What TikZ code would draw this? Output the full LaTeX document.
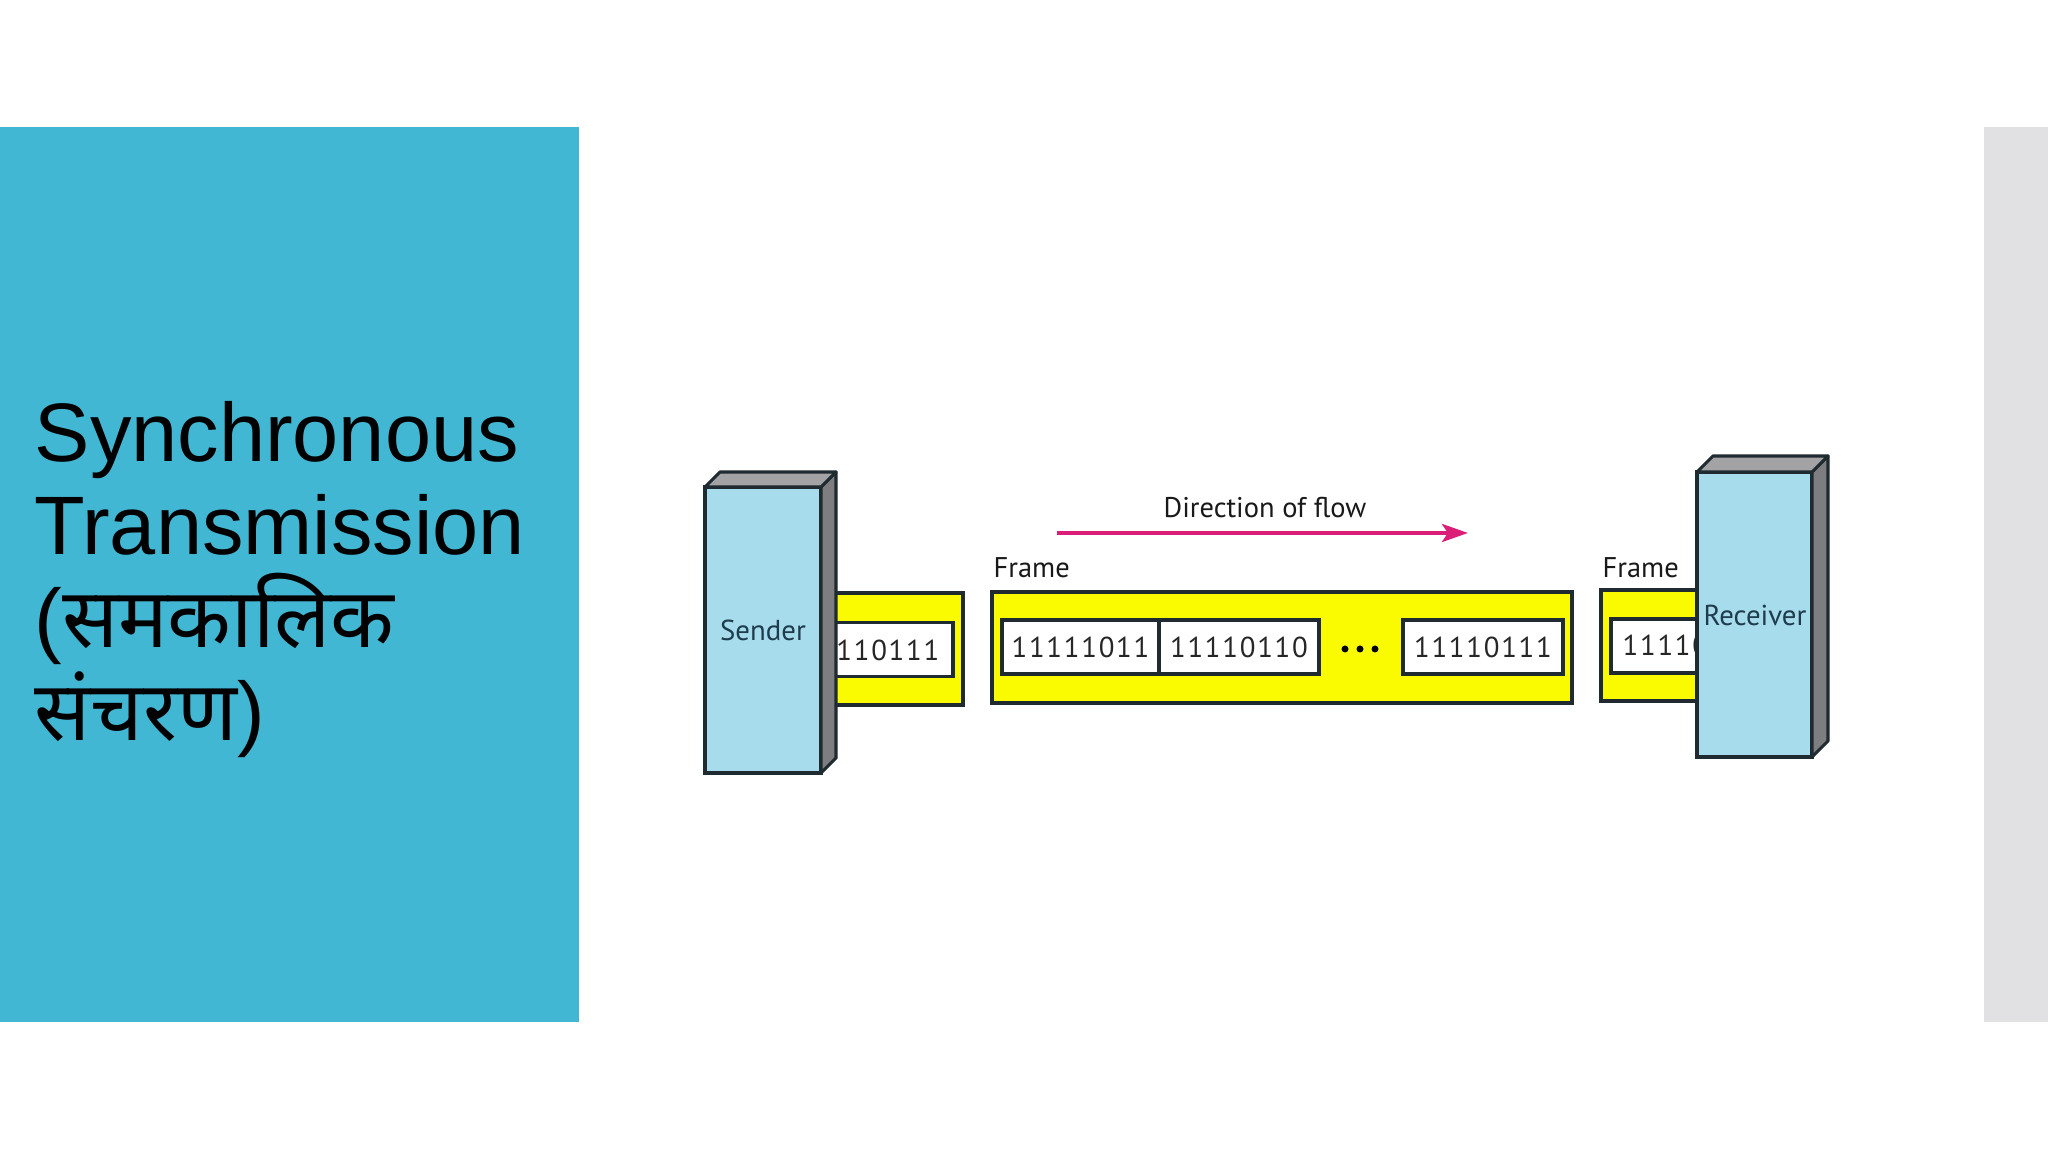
\documentclass[tikz,border=0pt]{standalone}
\usepackage{fontspec}
\setmainfont{Liberation Sans}
\newfontfamily\hindifont[Script=Devanagari]{Noto Sans}
\newfontfamily\figfont{PT Sans}
\newfontfamily\bitfont[LetterSpace=6]{PT Sans}
\usetikzlibrary{positioning,arrows.meta}
\definecolor{SlideTeal}{HTML}{42B7D3}
\definecolor{SlideGrey}{HTML}{E1E0E2}
\definecolor{HostBlue}{HTML}{A6DCEB}
\definecolor{HostSide}{HTML}{7E7E80}
\definecolor{HostTop}{HTML}{A3A3A5}
\definecolor{FrameYellow}{HTML}{FAFA00}
\definecolor{FlowPink}{HTML}{DB1F78}
\definecolor{EdgeDark}{HTML}{1F2B30}
\definecolor{LabelInk}{HTML}{1E3C4C}

\begin{document}
\begin{tikzpicture}[
        title/.style={anchor=base west, inner sep=0pt, font=\fontsize{23.6}{28}\selectfont, text=black},
        host/.style={draw=EdgeDark, fill=HostBlue, line width=0.9pt, inner sep=0pt, outer sep=0pt, text=LabelInk, font=\figfont\fontsize{8.2}{10}\selectfont},
        hostside/.style={draw=EdgeDark, fill=HostSide, line width=0.9pt, line join=round},
        hosttop/.style={draw=EdgeDark, fill=HostTop, line width=0.9pt, line join=round},
        frame/.style={draw=EdgeDark, fill=FrameYellow, line width=0.9pt, inner sep=0pt, outer sep=0pt},
        word/.style={draw=EdgeDark, fill=white, line width=0.9pt, inner sep=0pt, outer sep=0pt, minimum height=0.54cm},
        bits/.style={inner sep=0pt, text=black!85, font=\bitfont\fontsize{8.2}{10}\selectfont},
        lbl/.style={inner sep=0pt, text=black!90, font=\figfont\fontsize{8.1}{10}\selectfont}
    ]
        \useasboundingbox (0,0) rectangle (20.48,11.52);
        \fill[white] (0,0) rectangle (20.48,11.52);

        % Slide panels
        \fill[SlideTeal] (0,1.30) rectangle (5.79,10.25);
        \fill[SlideGrey] (19.84,1.30) rectangle (20.48,10.25);

        % Title
        \node[title] (t1) at (0.34,6.90) {Synchronous};
        \node[title] (t2) at (0.34,5.97) {Transmission};
        \node[title] (t3) at (0.34,5.04) {(\hindifont समकालिक};
        \node[title] (t4) at (0.34,4.11) {{\hindifont संचरण})};

        % Frame leaving the sender
        \node[frame, minimum width=1.53cm, minimum height=1.12cm] (lframe) at (8.865,5.03) {};
        \node[word, minimum width=1.43cm] (lword) at (8.815,5.025) {};
        \node[bits, anchor=east] (lbits) at (9.40,5.02) {11110111};

        % Sender
        \node[host, minimum width=1.16cm, minimum height=2.86cm] (sender) at (7.63,5.22) {Sender};
        \draw[hostside] (sender.north east) -- ++(0.15,0.15) -- ++(0,-2.86) -- (sender.south east) -- cycle;
        \draw[hosttop] (sender.north west) -- ++(0.15,0.15) -- ++(1.16,0) -- (sender.north east) -- cycle;

        % Frame in transit
        \node[lbl, anchor=base west] (flabel) at (9.93,5.74) {Frame};
        \node[frame, minimum width=5.80cm, minimum height=1.11cm] (frame) at (12.82,5.045) {};
        \node[word, minimum width=1.57cm] (w1) at (10.805,5.05) {};
        \node[word, minimum width=1.60cm, right=0pt of w1] (w2) {};
        \node[word, minimum width=1.60cm] (w3) at (14.83,5.05) {};
        \node[bits] at (w1) {11111011};
        \node[bits] at (w2) {11110110};
        \node[bits] at (w3) {11110111};
        \foreach \dx in {-0.15,0,0.15}
            \fill[black] (13.60+\dx,5.03) circle (0.035);

        % Direction of flow
        \node[lbl, anchor=base] (dir) at (12.65,6.34) {Direction of flow};
        \coordinate (flowA) at (10.57,6.19);
        \coordinate (flowB) at (14.68,6.19);
        \draw[-{Stealth[length=0.26cm, width=0.18cm, inset=0.06cm]}, FlowPink, line width=1.2pt] (flowA) -- (flowB);

        % Frame reaching the receiver
        \node[lbl, anchor=base west] (rlabel) at (16.02,5.74) {Frame};
        \node[frame, minimum width=1.05cm, minimum height=1.11cm] (rframe) at (16.535,5.065) {};
        \node[word, minimum width=0.95cm] (rword) at (16.585,5.06) {};
        \node[bits, anchor=west] (rbits) at (16.22,5.07) {11110111};

        % Receiver
        \node[host, minimum width=1.15cm, minimum height=2.85cm] (receiver) at (17.545,5.375) {};
        \node[host, draw=none, fill=none] (rtext) at (17.55,5.37) {Receiver};
        \draw[hostside] (receiver.north east) -- ++(0.16,0.16) -- ++(0,-2.85) -- (receiver.south east) -- cycle;
        \draw[hosttop] (receiver.north west) -- ++(0.16,0.16) -- ++(1.15,0) -- (receiver.north east) -- cycle;
    \end{tikzpicture}
\end{document}
